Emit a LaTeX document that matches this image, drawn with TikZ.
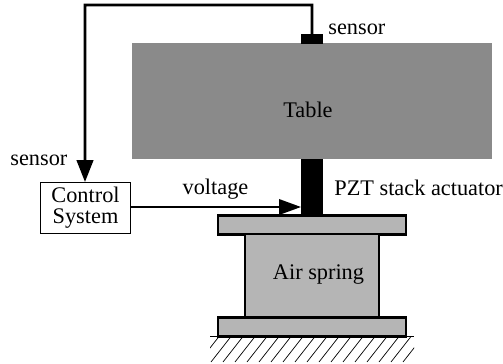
\documentclass[tikz,border=0pt]{standalone}
\usepackage{fontspec}
\setmainfont{Liberation Serif}
\usetikzlibrary{arrows.meta}
\definecolor{tablegray}{gray}{0.54}
\definecolor{springgray}{gray}{0.71}
\tikzset{
    block/.style={draw, line width=1.2pt, fill=springgray, inner sep=0pt, outer sep=0pt, anchor=north west},
    solid block/.style={fill=black, inner sep=0pt, outer sep=0pt, anchor=north west},
    wire/.style={line width=1.6pt},
    label text/.style={font=\fontsize{12.7}{12}\selectfont, inner sep=0pt}
}
\begin{document}
\begin{tikzpicture}[x=0.02cm, y=-0.02cm]
    \useasboundingbox (0,0) rectangle (503,364);

    % Nodes
    \node[fill=tablegray, inner sep=0pt, outer sep=0pt, anchor=north west, minimum width=7.2cm, minimum height=2.32cm] (table) at (132,43) {};
    \node[label text] at (308,110) {Table};
    \node[solid block, minimum width=0.44cm, minimum height=0.2cm] (sensortop) at (301,34) {};
    \node[solid block, minimum width=0.44cm, minimum height=1.14cm] (pzt) at (301,159) {};
    \node[block, minimum width=3.76cm, minimum height=0.38cm] (topplate) at (218,215.5) {};
    \node[block, minimum width=2.68cm, minimum height=1.66cm] (spring) at (245,234) {};
    \node[block, minimum width=3.76cm, minimum height=0.38cm] (baseplate) at (218,317.5) {};
    \node[draw, line width=0.6pt, fill=white, minimum width=1.8cm, minimum height=1.02cm, inner sep=0pt, anchor=north west, label text, align=center] (control) at (40,182) {Control\\System};
    \coordinate (cornerright) at (312,5);
    \coordinate (cornerleft) at (85,5);
    \coordinate (groundleft) at (210,336.5);
    \coordinate (groundright) at (414,336.5);

    % Labels
    \node[label text, anchor=west] (sensorlabel) at (328,29) {sensor};
    \node[label text, anchor=west] (sensorleft) at (10,160) {sensor};
    \node[label text] (voltage) at (215.5,189) {voltage};
    \node[label text, anchor=west] (pztlabel) at (334,188) {PZT stack actuator};
    \node[label text] (springlabel) at (318.5,275) {Air spring};

    % Connectors
    \draw[wire, -{Triangle[length=12.5pt, width=9.4pt]}] (sensortop.north) -- (cornerright) -- (cornerleft) -- (control.north -| cornerleft);
    \draw[line width=1.1pt, -{Triangle[length=12.5pt, width=8.8pt]}] (control.east |- 0,207) -- (pzt.west |- 0,207);

    % Ground
    \draw[line width=0.6pt] (groundleft) -- (groundright);
    \begin{scope}
        \clip (210,336.5) rectangle (414,362);
        \foreach \x in {-1,0,...,17}
            \draw[line width=0.4pt] (211+\x*12,362) -- (231+\x*12,336.5);
    \end{scope}
\end{tikzpicture}
\end{document}
